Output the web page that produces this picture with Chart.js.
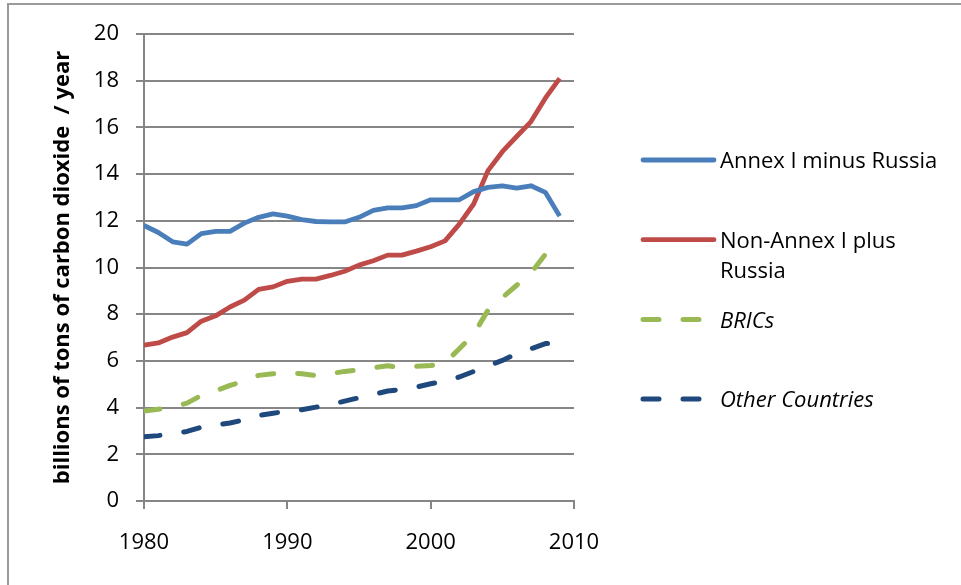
<!DOCTYPE html>
<html>
<head>
<meta charset="utf-8">
<script src="https://cdn.jsdelivr.net/npm/chart.js@4"></script>
<style>
  html, body { margin: 0; padding: 0; background: #fff; }
  #wrap { position: relative; width: 961px; height: 585px; overflow: hidden; }
  #frame { position: absolute; left: 7px; top: 3px; right: -10px; bottom: -10px;
           border-top: 2px solid #9a9a9a; border-left: 2px solid #9a9a9a; }
  canvas { position: absolute; left: 0; top: 0; }
</style>
</head>
<body>
<div id="wrap">
  <div id="frame"></div>
  <canvas id="co2Chart" width="961" height="585"></canvas>
</div>
<script>
// Years on the x axis (one point per year)
const years = [1980, 1981, 1982, 1983, 1984, 1985, 1986, 1987, 1988, 1989,
               1990, 1991, 1992, 1993, 1994, 1995, 1996, 1997, 1998, 1999,
               2000, 2001, 2002, 2003, 2004, 2005, 2006, 2007, 2008, 2009];

// Emissions, billions of tons of CO2 per year
const annexMinusRussia = [11.8, 11.5, 11.1, 11.0, 11.45, 11.55, 11.55, 11.9, 12.15, 12.3,
                          12.2, 12.05, 11.97, 11.95, 11.95, 12.15, 12.45, 12.55, 12.55, 12.65,
                          12.9, 12.9, 12.9, 13.25, 13.43, 13.5, 13.4, 13.5, 13.22, 12.2];
const nonAnnexPlusRussia = [6.67, 6.77, 7.02, 7.21, 7.7, 7.93, 8.31, 8.6, 9.06, 9.17,
                            9.41, 9.5, 9.5, 9.66, 9.84, 10.1, 10.29, 10.53, 10.53, 10.7,
                            10.89, 11.14, 11.86, 12.72, 14.15, 14.96, 15.61, 16.25, 17.25, 18.1];
const brics = [3.85, 3.93, 4.02, 4.19, 4.52, 4.72, 4.95, 5.14, 5.38, 5.45,
               5.5, 5.45, 5.37, 5.45, 5.55, 5.62, 5.71, 5.79, 5.71, 5.77,
               5.8, 5.92, 6.52, 7.14, 8.17, 8.71, 9.24, 9.77, 10.56, 11.3];
const otherCountries = [2.75, 2.8, 2.89, 2.98, 3.16, 3.26, 3.34, 3.48, 3.66, 3.76,
                        3.84, 3.91, 4.02, 4.13, 4.28, 4.42, 4.56, 4.71, 4.78, 4.88,
                        5.02, 5.14, 5.31, 5.55, 5.79, 6.02, 6.31, 6.52, 6.74, 6.74];

const seriesNames = ['Annex I minus Russia', 'Non-Annex I plus Russia', 'BRICs', 'Other Countries'];

// Tick labels
const xTicks = [1980, 1990, 2000, 2010];
const yTicks = [0, 2, 4, 6, 8, 10, 12, 14, 16, 18, 20];

const FONT = "'Open Sans', 'DejaVu Sans', sans-serif";
const AXIS_GRAY = '#868686';

function toPoints(values) {
    return values.map((v, i) => ({ x: years[i], y: v }));
}

// Legend on the right, drawn by hand so long names can wrap like in Excel
const sideLegend = {
    id: 'sideLegend',
    afterDraw(chart) {
        const ctx = chart.ctx;
        const lineX0 = 643, lineX1 = 714, textX = 720;
        const firstRow = 160, rowStep = 79.7, wrapWidth = 228;
        chart.data.datasets.forEach((ds, i) => {
            const y = firstRow + i * rowStep;
            ctx.save();
            ctx.strokeStyle = ds.borderColor;
            ctx.lineWidth = ds.borderWidth;
            ctx.lineCap = 'round';
            ctx.setLineDash(ds.borderDash || []);
            ctx.beginPath();
            ctx.moveTo(lineX0, y);
            ctx.lineTo(lineX1, y);
            ctx.stroke();
            ctx.setLineDash([]);
            ctx.fillStyle = '#000';
            ctx.font = (ds.italicLabel ? 'italic ' : '') + '22px ' + FONT;
            ctx.textBaseline = 'middle';
            // simple word wrap
            const words = ds.label.split(' ');
            const lines = [];
            let cur = '';
            words.forEach(w => {
                const test = cur ? cur + ' ' + w : w;
                if (cur && ctx.measureText(test).width > wrapWidth) {
                    lines.push(cur);
                    cur = w;
                } else {
                    cur = test;
                }
            });
            lines.push(cur);
            lines.forEach((t, k) => ctx.fillText(t, textX, y + 2 + k * 30));
            ctx.restore();
        });
    }
};

const ctx = document.getElementById('co2Chart').getContext('2d');
new Chart(ctx, {
    type: 'line',
    data: {
        datasets: [
            {
                label: seriesNames[0],
                data: toPoints(annexMinusRussia),
                borderColor: '#4A7EBB',
                borderWidth: 4.8,
            },
            {
                label: seriesNames[1],
                data: toPoints(nonAnnexPlusRussia),
                borderColor: '#BE4B48',
                borderWidth: 4.8,
            },
            {
                label: seriesNames[2],
                data: toPoints(brics),
                borderColor: '#98B954',
                borderWidth: 5,
                borderDash: [16, 24],
                borderCapStyle: 'round',
                italicLabel: true,
            },
            {
                label: seriesNames[3],
                data: toPoints(otherCountries),
                borderColor: '#1F497D',
                borderWidth: 5,
                borderDash: [16, 24],
                borderCapStyle: 'round',
                italicLabel: true,
            }
        ]
    },
    options: {
        responsive: false,
        animation: false,
        elements: {
            point: { radius: 0 },
            line: { tension: 0, borderJoinStyle: 'round' }
        },
        layout: {
            padding: { top: 34, right: 387, bottom: 0, left: 0 }
        },
        plugins: {
            legend: { display: false },
            tooltip: { enabled: false }
        },
        scales: {
            x: {
                type: 'linear',
                min: 1980,
                max: 2010,
                afterBuildTicks: scale => { scale.ticks = xTicks.map(v => ({ value: v })); },
                afterFit: scale => { scale.height = 84; },
                ticks: {
                    color: '#000',
                    font: { family: FONT, size: 22 },
                    padding: 21,
                    maxRotation: 0,
                    callback: v => String(v)
                },
                grid: {
                    drawOnChartArea: false,
                    drawTicks: true,
                    tickLength: 8,
                    color: AXIS_GRAY,
                    lineWidth: 2
                },
                border: { display: true, color: AXIS_GRAY, width: 2 }
            },
            y: {
                min: 0,
                max: 20,
                afterBuildTicks: scale => { scale.ticks = yTicks.map(v => ({ value: v })); },
                afterFit: scale => { scale.width = 144; },
                ticks: {
                    color: '#000',
                    font: { family: FONT, size: 22 },
                    padding: 17
                },
                grid: {
                    drawTicks: true,
                    tickLength: 8,
                    color: AXIS_GRAY,
                    lineWidth: 2
                },
                border: { display: true, color: AXIS_GRAY, width: 2 },
                title: {
                    display: true,
                    text: 'billions of tons of carbon dioxide  / year',
                    color: '#000',
                    font: { family: FONT, size: 22, weight: 'bold' },
                    padding: { top: 50, bottom: 0 }
                }
            }
        }
    },
    plugins: [sideLegend]
});
</script>
</body>
</html>
